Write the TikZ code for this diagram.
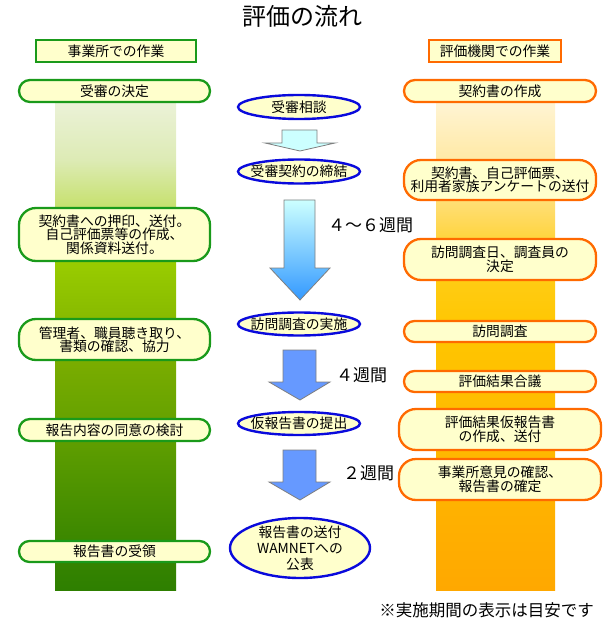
\documentclass[tikz,border=0pt]{standalone}
\usepackage{fontspec}
\setmainfont{Noto Sans CJK JP}
\usetikzlibrary{shapes.geometric}
\definecolor{BoxFill}{HTML}{FFFFCC}
\definecolor{OfficeGreen}{HTML}{1A9A1A}
\definecolor{EvalOrange}{HTML}{FF6A00}
\definecolor{FlowBlue}{HTML}{0A0ADC}
\definecolor{ArrowGray}{HTML}{7F7F7F}
\definecolor{PaleCyan}{HTML}{CCFFFF}
\definecolor{SkyBlue}{HTML}{3399FF}
\definecolor{MidSky}{HTML}{99DDFF}
\definecolor{StepBlue}{HTML}{6699FF}
\definecolor{gA}{HTML}{EEF3DE}
\definecolor{gB}{HTML}{DDEBB5}
\definecolor{gC}{HTML}{C5E06A}
\definecolor{gD}{HTML}{99CC00}
\definecolor{gE}{HTML}{7AAD00}
\definecolor{gF}{HTML}{5F9E00}
\definecolor{gG}{HTML}{3B8700}
\definecolor{gH}{HTML}{2E7F00}
\definecolor{oA}{HTML}{FFF6DC}
\definecolor{oB}{HTML}{FFE9A5}
\definecolor{oC}{HTML}{FFDC6A}
\definecolor{oD}{HTML}{FFCE1A}
\definecolor{oE}{HTML}{FFC600}
\definecolor{oF}{HTML}{FFB900}
\definecolor{oG}{HTML}{FFA800}
\pgfdeclareverticalshading{officecol}{100bp}{color(0bp)=(gH); color(25bp)=(gH);
  color(29.9bp)=(gG); color(40bp)=(gF); color(48.1bp)=(gE); color(57.9bp)=(gD);
  color(63.2bp)=(gC); color(68.2bp)=(gB); color(75bp)=(gA); color(100bp)=(gA)}
\pgfdeclareverticalshading{evalcol}{100bp}{color(0bp)=(oG); color(25bp)=(oG);
  color(40bp)=(oF); color(51.1bp)=(oE); color(57.9bp)=(oD);
  color(63.2bp)=(oC); color(68.2bp)=(oB); color(75bp)=(oA); color(100bp)=(oA)}

\begin{document}
\begin{tikzpicture}[x=1pt,y=-1pt,
    boxtext/.style={font=\fontsize{13.8}{13.5}\selectfont,align=center,inner sep=0pt},
    headbox/.style={boxtext,draw,line width=2.4pt,fill=BoxFill,minimum height=22pt},
    officebox/.style={boxtext,draw=OfficeGreen,line width=2.3pt,fill=BoxFill,minimum width=191pt},
    evalbox/.style={boxtext,draw=EvalOrange,line width=2.3pt,fill=BoxFill},
    flowring/.style={ellipse,draw=FlowBlue,line width=2.4pt,fill=BoxFill,inner sep=0pt},
    blockarrow/.style={draw=ArrowGray,line width=0.8pt,line join=miter},
    weeks/.style={font=\fontsize{17}{17}\selectfont,anchor=west,inner sep=0pt}]
  \useasboundingbox (0,0) rectangle (610,620);

  \node[font=\fontsize{24}{24}\selectfont,inner sep=0pt] (title) at (302,16) {評価の流れ};

  \shade[shading=officecol] (55,92) rectangle (176,590);
  \shade[shading=evalcol] (436,92) rectangle (555,590);

  \node[headbox,draw=OfficeGreen,minimum width=160pt] (officehead) at (116,51) {事業所での作業};
  \node[headbox,draw=EvalOrange,minimum width=132pt] (evalhead) at (495,51) {評価機関での作業};

  \foreach \n/\y/\h/\txt in {d1/91/22/受審の決定,
      d2/234.5/53/{契約書への押印、送付。\\自己評価票等の作成、\\関係資料送付。},
      d3/339.5/41/{管理者、職員聴き取り、\\書類の確認、協力},
      d4/430/22/報告内容の同意の検討,
      d5/551.5/21/報告書の受領} {
    \pgfmathsetmacro\rr{min(\h/2,17)}
    \node[officebox,minimum height=\h pt,rounded corners=\rr pt] (\n) at (114.5,\y) {\txt};
  }

  \foreach \n/\y/\h/\w/\txt in {h1/91/22/192/契約書の作成,
      h2/180/40/192/{契約書、自己評価票、\\利用者家族アンケートの送付},
      h3/259.5/41/192/{訪問調査日、調査員の\\決定},
      h4/331.5/21/192/訪問調査,
      h5/381.5/21/192/評価結果合議,
      h6/429.5/41/202/{評価結果仮報告書\\の作成、送付},
      h7/479.5/41/202/{事業所意見の確認、\\報告書の確定}} {
    \pgfmathsetmacro\rr{min(\h/2,17)}
    \node[evalbox,minimum width=\w pt,minimum height=\h pt,rounded corners=\rr pt] (\n) at (500,\y) {\txt};
  }

  \foreach \n/\x/\y/\w/\h/\txt in {c1/299/107/122/24/受審相談,
      c2/299/171.5/122/24/受審契約の締結,
      c3/299/324/122/23/訪問調査の実施,
      c4/299/423.5/122/23/仮報告書の提出} {
    \node[flowring,minimum width=\w pt,minimum height=\h pt] (\n) at (\x,\y) {};
    \node[boxtext] (\n text) at (\n) {\txt};
  }
  \node[flowring,minimum width=140pt,minimum height=60pt] (c5) at (300,548) {};
  \node[boxtext,font=\fontsize{13.8}{16}\selectfont] (c5text) at (c5) {報告書の送付\\WAMNETへの\\公表};

  \draw[blockarrow,fill=PaleCyan] (282,130) -- (317,130) -- (317,143) -- (335,143)
    -- (300,151) -- (265,143) -- (282,143) -- cycle;
  \draw[blockarrow,top color=PaleCyan,middle color=MidSky,bottom color=SkyBlue]
    (284,200) -- (315,200) -- (315,268) -- (330,268) -- (300,300) -- (270,268) -- (284,268) -- cycle;
  \foreach \yt/\yh/\yb in {350/382/400,450/482/500} {
    \draw[blockarrow,fill=StepBlue] (283,\yt) -- (316,\yt) -- (316,\yh) -- (330,\yh)
      -- (300,\yb) -- (269,\yh) -- (283,\yh) -- cycle;
  }

  \node[weeks] (w46) at (328,225) {４～６週間};
  \node[weeks] (w4) at (336,375) {４週間};
  \node[weeks] (w2) at (343,473) {２週間};

  \node[font=\fontsize{16.5}{16.5}\selectfont,anchor=east,inner sep=0pt] (note) at (594,610) {※実施期間の表示は目安です};
\end{tikzpicture}
\end{document}
